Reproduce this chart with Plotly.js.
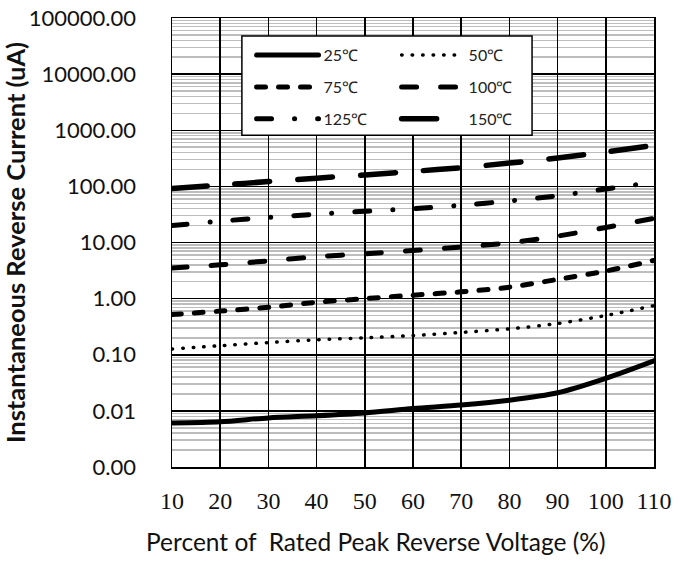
<!DOCTYPE html>
<html><head><meta charset="utf-8">
<script src="https://cdn.plot.ly/plotly-3.0.1.min.js"></script>
<style>
html,body{margin:0;padding:0;background:#fff;}
#chart{width:682px;height:561px;}
path.js-line{stroke-linecap:round;}
</style></head><body><div id="chart"></div>
<script>
const voltagePct = [10, 20, 30, 40, 50, 60, 70, 80, 90, 100, 110];
const current25  = [0.0061, 0.0064, 0.0075, 0.0082, 0.0092, 0.011, 0.0127, 0.0155, 0.021, 0.038, 0.078];
const current50  = [0.127, 0.145, 0.165, 0.185, 0.2, 0.22, 0.25, 0.29, 0.36, 0.5, 0.75];
const current75  = [0.52, 0.6, 0.7, 0.86, 1.0, 1.15, 1.32, 1.6, 2.2, 3.1, 4.8];
const current100 = [3.5, 4.0, 4.7, 5.6, 6.3, 7.2, 8.3, 9.9, 13, 18.5, 27];
const current125 = [20, 24, 28, 32, 36, 40, 46, 55, 68, 90, 118];
const current150 = [92, 105, 122, 140, 160, 185, 215, 260, 320, 410, 540];
const seriesNames = ['25℃', '50℃', '75℃', '100℃', '125℃', '150℃'];
const xTickVals = [10, 20, 30, 40, 50, 60, 70, 80, 90, 100, 110];
const yTickVals = [0.001, 0.01, 0.1, 1, 10, 100, 1000, 10000, 100000];
const yTickText = ['0.00', '0.01', '0.10', '1.00', '10.00', '100.00', '1000.00', '10000.00', '100000.00'];
const yTitle = 'Instantaneous Reverse Current (uA)';
const xTitle = 'Percent of\u00a0\u00a0Rated Peak Reverse Voltage (%)';

const SANS = 'Lato, "Open Sans", "Liberation Sans", sans-serif';
const SERIF = '"Liberation Serif", "DejaVu Serif", serif';

const series = [
  {y: current25,  name: seriesNames[0], width: 5,   dash: 'solid',                 legend: 'legend'},
  {y: current50,  name: seriesNames[1], width: 3.5, dash: '0.5px,10px',            legend: 'legend2'},
  {y: current75,  name: seriesNames[2], width: 5,   dash: '9px,13px',              legend: 'legend'},
  {y: current100, name: seriesNames[3], width: 5,   dash: '15px,24px',             legend: 'legend2'},
  {y: current125, name: seriesNames[4], width: 5,   dash: '15px,23px,0.1px,23px',  legend: 'legend'},
  {y: current150, name: seriesNames[5], width: 5.5, dash: '35px,28px',             legend: 'legend2'}
];

const traces = series.map((s, i) => ({
  x: voltagePct, y: s.y, name: s.name, type: 'scatter', mode: 'lines',
  line: {color: '#000', width: s.width, dash: s.dash, shape: 'spline', smoothing: 0.8},
  legend: s.legend, legendgroup: 'g' + i, hoverinfo: 'x+y+name'
}));

const legendCommon = {
  xanchor: 'left', yanchor: 'top', bgcolor: 'rgba(0,0,0,0)', borderwidth: 0,
  font: {family: SANS, size: 16, color: '#222'}, itemwidth: 62, tracegroupgap: 8,
  orientation: 'v'
};

const layout = {
  width: 682, height: 561, autosize: false,
  margin: {l: 172, r: 28, t: 18, b: 94, pad: 0},
  paper_bgcolor: '#fff', plot_bgcolor: '#fff',
  showlegend: true,
  legend: Object.assign({x: 0.165, y: 0.955}, legendCommon),
  legend2: Object.assign({x: 0.466, y: 0.955}, legendCommon),
  xaxis: {
    range: [10, 110], tickmode: 'array', tickvals: xTickVals,
    showgrid: true, gridcolor: '#000', gridwidth: 1.5,
    showline: true, linecolor: '#000', linewidth: 1.5, mirror: true,
    ticks: '', ticklabelstandoff: 12, zeroline: false,
    tickfont: {family: SERIF, size: 24, color: '#111'}
  },
  yaxis: {
    type: 'log', range: [-3, 5], tickmode: 'array', tickvals: yTickVals, ticktext: yTickText,
    showgrid: true, gridcolor: '#000', gridwidth: 1.5,
    minor: {showgrid: true, dtick: 'D1', gridcolor: '#bdbdbd', gridwidth: 1.5, ticks: ''},
    showline: true, linecolor: '#000', linewidth: 1.5, mirror: true,
    ticks: 'outside', ticklen: 30, tickcolor: 'rgba(0,0,0,0)', tickwidth: 1,
    zeroline: false,
    tickfont: {family: SANS, size: 22, color: '#111'},
    title: {text: yTitle, font: {family: SANS, size: 25.5, color: '#111', weight: 'bold'}, standoff: 0}
  },
  yaxis2: {
    type: 'log', range: [-3, 5], overlaying: 'y', side: 'left', tickmode: 'array', tickvals: yTickVals,
    showticklabels: false, showgrid: false, zeroline: false, showline: false,
    ticks: 'outside', ticklen: 9, tickcolor: '#888', tickwidth: 1.5
  },
  annotations: [{
    text: xTitle, xref: 'paper', yref: 'paper', x: 0.423, y: -0.165,
    xanchor: 'center', yanchor: 'middle', showarrow: false,
    font: {family: SANS, size: 24.5, color: '#111'}
  }],
  shapes: [{
    type: 'rect', xref: 'paper', yref: 'paper', x0: 0.145, x1: 0.747, y0: 0.739, y1: 0.960,
    fillcolor: '#fff', line: {color: '#000', width: 1.5}, layer: 'above'
  }]
};

Plotly.newPlot('chart', traces, layout, {displayModeBar: false, staticPlot: true});
</script></body></html>
